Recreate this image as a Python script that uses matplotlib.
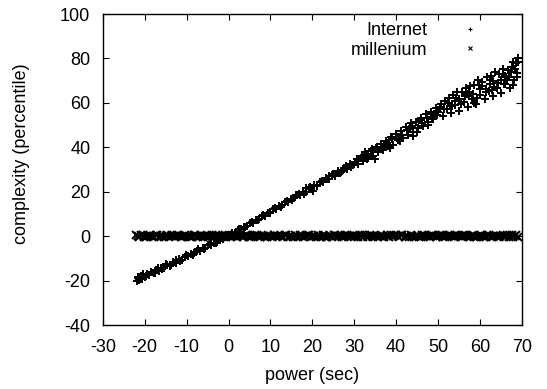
import matplotlib
matplotlib.use("Agg")
import matplotlib.pyplot as plt

plt.rcParams["font.family"] = ["Liberation Sans", "DejaVu Sans"]
plt.rcParams["axes.unicode_minus"] = False

# Internet series (power, complexity)
internet_x = [
    -21.9, -21.6, -21.3, -21.0, -20.7, -20.3, -19.9, -19.4, -18.9, -18.4,
    -17.8, -17.2, -16.6, -16.0, -15.3, -14.6, -13.9, -13.2, -12.5, -11.8,
    -11.1, -10.4, -9.7, -9.0, -8.3, -7.6, -6.9, -6.2, -5.5, -4.8,
    -4.1, -3.4, -2.7, -2.0, -1.3, -0.6,
    -21.7, -21.1, -20.4, -19.6, -18.6, -17.6, -16.8, -15.8, -14.9, -13.7,
    -12.6, -11.5, -10.1, -8.6, -7.3, -5.8, -4.4, -3.0, -1.6, -0.2,
    0.2, 0.9, 1.6, 2.3, 3.0, 3.7, 4.4, 5.1, 5.8, 6.5,
    7.2, 7.9, 8.6, 9.3, 10.0, 10.7, 11.4, 12.1, 12.8, 13.5,
    14.2, 14.9, 15.6, 16.3, 17.0, 17.7, 18.4, 19.1, 19.8, 20.5,
    21.2, 21.9, 22.6, 23.3, 24.0, 24.7, 25.4, 26.1, 26.8, 27.5,
    28.2, 28.9, 29.6,
    18.5, 20.2, 24.0, 27.0, 16.0,
    1.0, 2.6, 4.0, 5.5, 7.0, 8.3, 9.8, 11.0, 12.5, 13.9,
    15.2, 16.7, 18.0, 19.5, 21.0, 22.3, 23.7, 25.0, 26.5, 28.0, 29.3,
    30.3, 30.9, 31.5, 32.1, 32.7, 33.3, 33.9, 34.5, 35.1, 35.7,
    36.3, 36.9, 37.5, 38.1, 38.7, 39.3, 39.9, 40.5, 41.1, 41.7,
    42.3, 42.9, 43.5, 44.1, 44.7, 45.3, 45.9, 46.5, 47.1, 47.7,
    48.3, 48.9, 49.5,
    32.5, 35.0, 37.2, 38.5, 41.0, 43.2, 44.0, 46.2, 47.5, 49.0,
    30.6, 31.8, 33.0, 34.2, 35.4, 36.6, 37.8, 39.0, 40.2, 41.4,
    42.6, 43.8, 45.0, 46.0, 47.3, 48.5, 49.8,
    50.1, 50.6, 51.1, 51.6, 52.1, 52.6, 53.1, 53.6, 54.1, 54.6,
    55.1, 55.6, 56.1, 56.6, 57.1, 57.6, 58.1, 58.6, 59.1, 59.6,
    60.1, 60.6, 61.1, 61.6, 62.1, 62.6, 63.1, 63.6, 64.1, 64.6,
    65.1, 65.6, 66.1, 66.6, 67.1, 67.6, 68.1, 68.6, 69.0,
    52.8, 55.0, 57.5, 60.0, 62.5, 65.0, 67.0, 68.0, 68.8, 69.0,
    66.0, 63.0, 58.5, 61.5, 54.0,
    50.4, 51.4, 52.4, 53.4, 54.4, 55.4, 56.4, 57.4, 58.4, 59.4,
    60.4, 61.4, 62.4, 63.4, 64.4, 65.4, 66.4, 67.4, 68.4, 68.9,
    56.8, 59.8, 62.8, 65.8, 67.8,
]
internet_y = [
    -20.1, -18.6, -19.8, -18.0, -19.2, -17.6, -18.4, -16.9, -17.7, -16.2,
    -16.8, -15.1, -15.6, -14.2, -14.5, -12.9, -13.3, -11.6, -11.9, -10.4,
    -10.6, -9.2, -9.1, -7.9, -7.8, -6.6, -6.5, -5.4, -5.2, -4.2,
    -3.9, -2.9, -2.6, -1.7, -1.3, -0.4,
    -19.0, -19.3, -17.2, -17.9, -16.1, -16.5, -14.4, -14.8, -12.7, -12.9,
    -10.8, -11.3, -8.7, -8.3, -6.0, -5.9, -3.5, -3.1, -1.0, 0.5,
    0.3, 1.2, 1.5, 2.8, 3.1, 4.3, 4.6, 5.9, 6.1, 7.4,
    7.7, 8.9, 9.2, 10.5, 10.8, 12.1, 12.3, 13.6, 13.9, 15.2,
    15.3, 16.8, 17.0, 18.4, 18.3, 19.9, 19.8, 21.6, 21.4, 23.0,
    22.9, 24.6, 24.3, 26.2, 25.8, 27.7, 27.3, 29.4, 28.9, 30.8,
    30.4, 32.3, 31.9,
    21.8, 20.4, 27.3, 29.2, 18.7,
    0.6, 3.3, 4.0, 6.4, 7.2, 9.6, 10.4, 12.6, 13.2, 15.9,
    16.4, 18.9, 19.1, 22.1, 22.6, 24.9, 25.9, 28.0, 28.4, 31.5, 31.0,
    33.6, 32.4, 35.2, 33.8, 36.9, 35.1, 38.4, 36.2, 39.8, 37.9,
    41.6, 38.8, 42.9, 40.7, 44.6, 41.2, 45.9, 43.4, 47.3, 44.1,
    49.2, 45.6, 50.8, 46.9, 51.6, 48.8, 53.4, 49.4, 54.9, 51.2,
    55.7, 52.6, 57.8,
    37.8, 34.9, 40.6, 39.6, 42.9, 48.9, 45.2, 51.0, 50.1, 55.2,
    34.7, 35.9, 34.6, 39.1, 40.2, 39.7, 41.8, 43.9, 44.8, 45.6,
    47.9, 49.7, 47.0, 52.4, 53.0, 53.7, 54.4,
    55.9, 59.4, 54.3, 60.8, 57.1, 62.2, 55.6, 63.4, 58.9, 64.7,
    56.2, 65.1, 60.3, 66.6, 58.1, 67.4, 61.9, 68.2, 59.3, 70.1,
    63.4, 69.2, 61.8, 71.6, 65.2, 72.3, 63.1, 73.8, 66.7, 72.9,
    64.4, 75.4, 68.3, 74.6, 66.9, 76.2, 70.1, 77.8, 80.3,
    58.4, 61.9, 63.0, 66.1, 68.4, 70.5, 71.8, 68.1, 73.4, 78.6,
    72.0, 69.9, 59.8, 64.9, 60.7,
    58.2, 57.2, 60.1, 58.7, 62.3, 59.6, 63.2, 65.0, 63.9, 62.4,
    67.4, 66.3, 70.3, 67.2, 69.1, 73.1, 70.4, 73.9, 75.3, 71.6,
    64.1, 68.0, 66.0, 68.6, 78.2,
]

# millenium series
millenium_x = [
    -22.0, -21.3, -20.5, -19.8, -19.0, -18.1, -17.4, -16.6, -15.9, -15.0,
    -14.2, -13.5, -12.7, -11.8, -11.1, -10.3, -9.5, -8.8, -7.9, -7.2,
    -6.4, -5.6, -4.9, -4.0, -3.3, -2.5, -1.7, -0.9, -0.2, 0.6,
    1.4, 2.1, 3.0, 3.7, 4.5, 5.3, 6.0, 6.9, 7.6, 8.4,
    9.2, 9.9, 10.8, 11.5, 12.3, 13.1, 13.8, 14.7, 15.4, 16.2,
    17.0, 17.7, 18.6, 19.3, 20.1, 20.9, 21.6, 22.5, 23.2, 24.0,
    24.8, 25.5, 26.4, 27.1, 27.9, 28.7, 29.4, 30.3, 31.0, 31.8,
    32.6, 33.3, 34.2, 34.9, 35.7, 36.5, 37.2, 38.1, 38.8, 39.6,
    40.4, 41.1, 42.0, 42.7, 43.5, 44.3, 45.0, 45.9, 46.6, 47.4,
    48.2, 48.9, 49.8, 50.5, 51.3, 52.1, 52.8, 53.7, 54.4, 55.2,
    56.0, 56.7, 57.6, 58.3, 59.1, 59.9, 60.6, 61.5, 62.2, 63.0,
    63.8, 64.5, 65.4, 66.1, 66.9, 67.7, 68.4, 69.0,
    -21.7, -20.9, -20.1, -19.4, -18.5, -17.8, -17.0, -16.2, -15.4, -14.6,
    -13.8, -13.1, -12.2, -11.4, -10.7, -9.9, -9.1, -8.3, -7.5, -6.8,
    -6.0, -5.2, -4.4, -3.6, -2.9, -2.1, -1.3, -0.5, 0.2, 1.0,
    1.8, 2.6, 3.4, 4.1, 4.9, 5.7, 6.4, 7.2, 8.0, 8.8,
    9.5, 10.4, 11.1, 11.9, 12.7, 13.5, 14.3, 15.0, 15.8, 16.6,
    17.4, 18.2, 19.0, 19.7, 20.5, 21.3, 22.0, 22.9, 23.6, 24.4,
    25.2, 26.0, 26.8, 27.5, 28.3, 29.0, 29.9, 30.6, 31.4, 32.2,
    33.0, 33.8, 34.5, 35.3, 36.1, 36.9, 37.7, 38.4, 39.2, 40.0,
    40.8, 41.5, 42.4, 43.1, 43.9, 44.7, 45.5, 46.2, 47.0, 47.8,
    48.6, 49.4, 50.1, 50.9, 51.7, 52.5, 53.3, 54.0, 54.8, 55.6,
    56.4, 57.2, 57.9, 58.7, 59.5, 60.3, 61.0, 61.8, 62.6, 63.4,
    64.2, 64.9, 65.7, 66.5, 67.3, 68.0, 68.7,
]
millenium_y = [
    0.3, -0.2, 0.5, -0.4, 0.1, -0.1, 0.4, -0.5, 0.2, 0.0,
    -0.3, 0.4, -0.1, 0.2, -0.5, 0.3, 0.1, -0.2, 0.5, -0.4,
    0.0, 0.2, -0.3, 0.4, -0.1, 0.1, -0.4, 0.3, 0.0, -0.2,
    0.5, -0.3, 0.2, -0.1, 0.4, -0.5, 0.1, 0.3, -0.2, 0.0,
    -0.4, 0.2, 0.5, -0.1, 0.0, -0.3, 0.4, 0.1, -0.5, 0.2,
    0.3, -0.2, -0.1, 0.4, 0.0, -0.4, 0.2, 0.5, -0.3, 0.1,
    -0.2, 0.3, 0.0, -0.5, 0.4, 0.1, -0.1, 0.2, -0.4, 0.3,
    0.5, -0.3, 0.1, 0.0, -0.2, 0.4, -0.5, 0.2, 0.3, -0.1,
    0.0, 0.3, -0.4, 0.1, 0.5, -0.2, 0.2, -0.3, 0.4, -0.1,
    -0.5, 0.2, 0.0, 0.3, -0.2, 0.1, 0.4, -0.4, 0.2, -0.1,
    0.3, 0.0, -0.3, 0.5, -0.2, 0.1, 0.2, -0.4, 0.4, -0.1,
    0.1, -0.5, 0.3, 0.0, -0.2, 0.4, 0.2, -0.3,
    -0.1, 0.4, -0.3, 0.2, 0.0, -0.5, 0.3, 0.1, -0.2, 0.5,
    0.2, -0.1, 0.4, -0.4, 0.1, 0.0, -0.3, 0.5, -0.1, 0.2,
    -0.2, 0.5, 0.1, -0.4, 0.3, 0.0, 0.2, -0.5, 0.4, -0.1,
    0.1, 0.3, -0.2, 0.5, -0.3, 0.0, 0.4, -0.1, 0.2, -0.4,
    0.3, -0.5, 0.0, 0.2, -0.1, 0.4, -0.2, 0.1, 0.5, -0.3,
    -0.1, 0.2, 0.4, -0.4, 0.0, 0.3, -0.2, 0.1, -0.5, 0.2,
    0.4, -0.1, 0.2, -0.3, 0.5, 0.0, -0.4, 0.1, 0.3, -0.2,
    0.0, 0.5, -0.3, 0.2, -0.1, 0.1, 0.4, -0.5, 0.0, 0.3,
    -0.2, 0.4, 0.1, -0.3, 0.0, 0.2, -0.4, 0.5, -0.1, 0.1,
    0.3, -0.2, 0.0, 0.4, -0.5, 0.2, -0.1, 0.3, 0.1, -0.3,
    0.5, -0.1, 0.2, -0.4, 0.0, 0.3, -0.2, 0.4, -0.3, 0.1,
    -0.1, 0.2, -0.5, 0.3, 0.0, -0.2, 0.4,
]
assert len(internet_x) == len(internet_y), (len(internet_x), len(internet_y))
assert len(millenium_x) == len(millenium_y), (len(millenium_x), len(millenium_y))

x_ticks = [-30, -20, -10, 0, 10, 20, 30, 40, 50, 60, 70]
y_ticks = [-40, -20, 0, 20, 40, 60, 80, 100]

fig = plt.figure(figsize=(5.47, 3.89), dpi=100)
ax = fig.add_axes([0.188, 0.1645, 0.766, 0.7995])

ax.plot(internet_x, internet_y, linestyle="none", marker="+", color="black",
        markersize=6.2, markeredgewidth=1.4, label="Internet")
ax.plot(millenium_x, millenium_y, linestyle="none", marker="x", color="black",
        markersize=5.6, markeredgewidth=1.4, label="millenium")

ax.set_xlim(-30, 70)
ax.set_ylim(-40, 100)
ax.set_xticks(x_ticks)
ax.set_yticks(y_ticks)
ax.tick_params(direction="in", top=True, right=True, length=4, width=0.8,
               labelsize=13)
ax.tick_params(axis="y", pad=9)
ax.tick_params(axis="x", pad=10)
for s in ax.spines.values():
    s.set_linewidth(1)

ax.set_xlabel("power (sec)", fontsize=13)
ax.set_ylabel("complexity (percentile)", fontsize=13)
ax.xaxis.set_label_coords(0.5, -0.135)
ax.yaxis.set_label_coords(-0.175, 0.55)

leg = ax.legend(loc="upper right", bbox_to_anchor=(0.908, 0.974),
                frameon=False, markerfirst=False, fontsize=13,
                handlelength=1.5, handletextpad=1.6, labelspacing=0.15,
                borderpad=0, borderaxespad=0, markerscale=0.5)
for h in leg.legend_handles:
    h.set_markeredgewidth(0.8)
for vp in leg._legend_handle_box.get_children():
    vp.align = "right"

fig.savefig("out.png", dpi=100)
